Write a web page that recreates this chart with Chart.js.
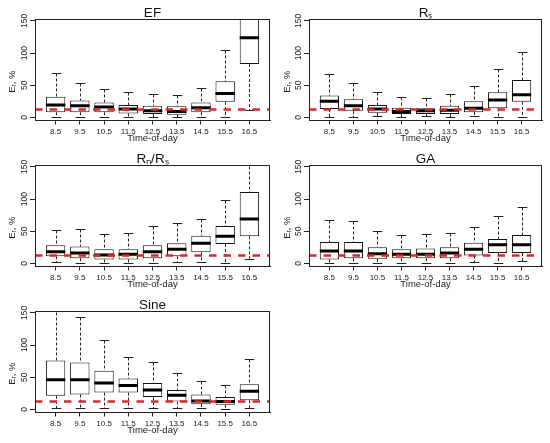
<!DOCTYPE html>
<html>
<head>
<meta charset="utf-8">
<script src="https://cdn.jsdelivr.net/npm/chart.js@4.4.1/dist/chart.umd.min.js"></script>
<style>
  html, body { margin: 0; padding: 0; background: #fff; }
  #wrap { position: relative; width: 550px; height: 443px; }
  #wrap canvas { position: absolute; }
</style>
</head>
<body>
<div id="wrap">
  <canvas id="c0" width="275" height="146" style="left:0;top:0"></canvas>
  <canvas id="c1" width="275" height="146" style="left:275px;top:0"></canvas>
  <canvas id="c2" width="275" height="146" style="left:0;top:146px"></canvas>
  <canvas id="c3" width="275" height="146" style="left:275px;top:146px"></canvas>
  <canvas id="c4" width="275" height="146" style="left:0;top:292px"></canvas>
</div>
<script>
const hours = ["8.5", "9.5", "10.5", "11.5", "12.5", "13.5", "14.5", "15.5", "16.5"];
const yTicks = [0, 50, 100, 150];
const refLevel = 12;

// EF
const efLow = [1, 0, 0, 0, 1, 1, 1, 1, 11];
const efQ1 = [8, 8, 8, 6, 5, 4, 8, 24, 83];
const efMed = [19, 18, 16, 13, 10, 9, 15, 37, 124];
const efQ3 = [32, 26, 23, 19, 18, 17, 23, 56, 165];
const efHigh = [69, 53, 44, 39, 37, 35, 45, 105, 240];

// Rs
const rsLow = [0, 1, 2, 0, 2, 0, 2, 1, 1];
const rsQ1 = [13, 10, 7, 5, 5, 5, 8, 14, 24];
const rsMed = [25, 18, 13, 9, 10, 11, 14, 27, 35];
const rsQ3 = [34, 28, 19, 15, 14, 18, 25, 39, 58];
const rsHigh = [67, 54, 39, 31, 30, 36, 48, 75, 102];

// Rn/Rs
const rnLow = [2, 1, 1, 1, 1, 2, 2, 0, 6];
const rnQ1 = [11, 8, 6, 6, 8, 11, 17, 30, 42];
const rnMed = [18, 16, 13, 14, 18, 22, 31, 42, 69];
const rnQ3 = [28, 26, 22, 22, 28, 31, 43, 58, 111];
const rnHigh = [52, 54, 46, 47, 58, 62, 69, 99, 175];

// GA
const gaLow = [0, 0, 0, 1, 0, 1, 2, 0, 3];
const gaQ1 = [6, 8, 7, 8, 8, 8, 12, 16, 16];
const gaMed = [19, 19, 15, 14, 14, 16, 22, 29, 29];
const gaQ3 = [33, 33, 25, 22, 23, 25, 32, 38, 44];
const gaHigh = [68, 66, 51, 44, 46, 47, 56, 74, 88];

// Sine
const snLow = [2, 2, 2, 2, 2, 2, 2, 0, 2];
const snQ1 = [21, 23, 26, 26, 19, 12, 8, 7, 14];
const snMed = [46, 46, 41, 37, 30, 22, 13, 12, 28];
const snQ3 = [76, 73, 60, 48, 41, 30, 23, 19, 39];
const snHigh = [190, 143, 108, 82, 73, 56, 44, 38, 78];

const FONT = "'Liberation Sans', Arial, sans-serif";
const INK = "#222";
Chart.defaults.font.family = FONT;
Chart.defaults.color = INK;

const panels = [
  { id: "c0", title: "EF", lo: efLow, q1: efQ1, med: efMed, q3: efQ3, hi: efHigh, yWidth: 35, padRight: 5 },
  { id: "c1", title: "Rₛ", lo: rsLow, q1: rsQ1, med: rsMed, q3: rsQ3, hi: rsHigh, yWidth: 34, padRight: 8 },
  { id: "c2", title: "Rₙ/Rₛ", lo: rnLow, q1: rnQ1, med: rnMed, q3: rnQ3, hi: rnHigh, yWidth: 35, padRight: 5 },
  { id: "c3", title: "GA", lo: gaLow, q1: gaQ1, med: gaMed, q3: gaQ3, hi: gaHigh, yWidth: 34, padRight: 8 },
  { id: "c4", title: "Sine", lo: snLow, q1: snQ1, med: snMed, q3: snQ3, hi: snHigh, yWidth: 35, padRight: 5 },
];

// whiskers, medians, reference line and frame
function boxParts(p) {
  return {
    id: "boxParts",
    beforeDatasetsDraw(chart) {
      const { ctx, chartArea: a, scales: { x, y } } = chart;
      const bars = chart.getDatasetMeta(0).data;
      ctx.save();
      ctx.beginPath();
      ctx.rect(a.left, a.top, a.width, a.height);
      ctx.clip();
      ctx.strokeStyle = INK;
      ctx.lineWidth = 1;
      hours.forEach((h, i) => {
        const cx = Math.round(x.getPixelForValue(i + 1)) + 0.5;
        const cap = bars[i].width / 4;
        const yHi = Math.round(y.getPixelForValue(p.hi[i])) + 0.5;
        const yLo = Math.round(y.getPixelForValue(p.lo[i])) + 0.5;
        ctx.setLineDash([3, 2]);
        ctx.beginPath();
        ctx.moveTo(cx, yHi);
        ctx.lineTo(cx, y.getPixelForValue(p.q3[i]));
        ctx.moveTo(cx, y.getPixelForValue(p.q1[i]));
        ctx.lineTo(cx, yLo);
        ctx.stroke();
        ctx.setLineDash([]);
        ctx.beginPath();
        ctx.moveTo(cx - cap, yHi);
        ctx.lineTo(cx + cap, yHi);
        ctx.moveTo(cx - cap, yLo);
        ctx.lineTo(cx + cap, yLo);
        ctx.stroke();
      });
      ctx.restore();
    },
    afterDatasetsDraw(chart) {
      const { ctx, chartArea: a, scales: { x, y } } = chart;
      const bars = chart.getDatasetMeta(0).data;
      ctx.save();
      ctx.beginPath();
      ctx.rect(a.left, a.top, a.width, a.height);
      ctx.clip();
      ctx.strokeStyle = "#000";
      ctx.lineWidth = 3;
      hours.forEach((h, i) => {
        const cx = x.getPixelForValue(i + 1);
        const half = bars[i].width / 2;
        const ym = y.getPixelForValue(p.med[i]);
        ctx.beginPath();
        ctx.moveTo(cx - half, ym);
        ctx.lineTo(cx + half, ym);
        ctx.stroke();
      });
      const yr = y.getPixelForValue(refLevel);
      ctx.strokeStyle = "#d42c2c";
      ctx.lineWidth = 2.5;
      ctx.setLineDash([7.5, 7]);
      ctx.beginPath();
      ctx.moveTo(a.left, yr);
      ctx.lineTo(a.right, yr);
      ctx.stroke();
      ctx.restore();
    },
    afterDraw(chart) {
      const { ctx, chartArea: a } = chart;
      ctx.save();
      ctx.strokeStyle = INK;
      ctx.lineWidth = 1;
      ctx.strokeRect(Math.round(a.left) + 0.5, Math.round(a.top) + 0.5,
        Math.round(a.width) - 1, Math.round(a.height) - 1);
      ctx.restore();
    },
  };
}

panels.forEach((p) => {
  new Chart(document.getElementById(p.id), {
    type: "bar",
    data: {
      datasets: [{
        data: hours.map((h, i) => ({ x: i + 1, y: [p.q1[i], p.q3[i]] })),
        backgroundColor: "#fff",
        borderColor: "#111",
        borderWidth: 1,
        borderSkipped: false,
        barPercentage: 1,
        categoryPercentage: 0.8,
      }],
    },
    plugins: [boxParts(p)],
    options: {
      responsive: false,
      animation: false,
      events: [],
      layout: { padding: { top: 0, left: 0, right: p.padRight, bottom: 0 } },
      plugins: {
        legend: { display: false },
        tooltip: { enabled: false },
        title: {
          display: true,
          text: p.title,
          color: "#111",
          fullSize: false,
          font: { size: 13.5, weight: "normal", lineHeight: 1 },
          padding: { top: 6.5, bottom: -1 },
        },
      },
      scales: {
        x: {
          type: "linear",
          min: 0.15,
          max: 9.85,
          offset: false,
          afterBuildTicks: (s) => { s.ticks = hours.map((h, i) => ({ value: i + 1 })); },
          afterFit: (s) => { s.height = 25.5; },
          ticks: {
            callback: (v) => hours[v - 1],
            autoSkip: false,
            maxRotation: 0,
            minRotation: 0,
            padding: 2,
            font: { size: 8 },
          },
          grid: { offset: false, drawOnChartArea: false, tickLength: 4, color: INK },
          border: { color: INK },
          title: {
            display: true,
            text: "Time-of-day",
            font: { size: 9.5, lineHeight: 1.6 },
            padding: 0,
          },
        },
        y: {
          min: -5,
          max: 153,
          afterBuildTicks: (s) => { s.ticks = yTicks.map((v) => ({ value: v })); },
          afterFit: (s) => { s.width = p.yWidth; },
          ticks: {
            minRotation: 90,
            maxRotation: 90,
            crossAlign: "center",
            padding: -2,
            font: { size: 8.5 },
          },
          grid: { drawOnChartArea: false, tickLength: 5, color: INK },
          border: { color: INK },
          title: {
            display: true,
            text: "Eᵣ, %         ",
            font: { size: 9.5, lineHeight: 2.53 },
            padding: 0,
          },
        },
      },
    },
  });
});
</script>
</body>
</html>
